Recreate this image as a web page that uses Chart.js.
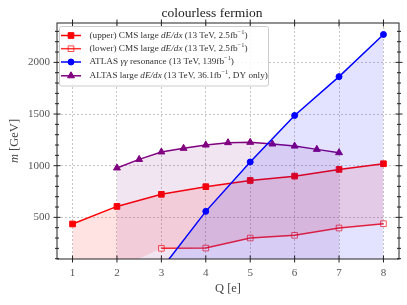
<!DOCTYPE html>
<html>
<head>
<meta charset="utf-8">
<script src="https://cdn.jsdelivr.net/npm/chart.js@4.4.0/dist/chart.umd.min.js"></script>
<style>
  html, body { margin: 0; padding: 0; background: #fff; }
</style>
</head>
<body>
<canvas id="chart" width="407" height="305"></canvas>
<script>
// values
const charges = [1, 2, 3, 4, 5, 6, 7, 8];
const cmsUpper = [436, 606, 723, 797, 857, 899, 964, 1019];
const cmsLowerCharges = [3, 4, 5, 6, 7, 8];
const cmsLower = [200, 203, 300, 326, 397, 439];
const cmsBandEdge = [0, 0, 200, 203, 300, 326, 397, 439];   // lower edge of the red band
const atlasCharges = [3, 4, 5, 6, 7, 8];
const atlasGammaGamma = [0, 558, 1036, 1486, 1862, 2270];
const dyCharges = [2, 2.5, 3, 3.5, 4, 4.5, 5, 5.5, 6, 6.5, 7];
const atlasDy = [978, 1061, 1133, 1168, 1200, 1223, 1226, 1210, 1190, 1158, 1126];

const xTicks = [1, 2, 3, 4, 5, 6, 7, 8];
const yTicks = [500, 1000, 1500, 2000];
const yMinorStep = 100;

const chartTitle = 'colourless fermion';
const xTitle = 'Q [e]';
const yTitle = [{t: 'm', it: true}, {t: ' [GeV]'}];
const legendLabels = [
    [{t: '(upper) CMS large '}, {t: 'dE/dx', it: true}, {t: ' (13 TeV, 2.5fb'}, {t: '\u22121', sup: true}, {t: ')'}],
    [{t: '(lower) CMS large '}, {t: 'dE/dx', it: true}, {t: ' (13 TeV, 2.5fb'}, {t: '\u22121', sup: true}, {t: ')'}],
    [{t: 'ATLAS '}, {t: '\u03b3\u03b3', it: true}, {t: ' resonance (13 TeV, 139fb'}, {t: '\u22121', sup: true}, {t: ')'}],
    [{t: 'ALTAS large '}, {t: 'dE/dx', it: true}, {t: ' (13 TeV, 36.1fb'}, {t: '\u22121', sup: true}, {t: ', DY only)'}]
];

const SERIF = "'Liberation Serif', 'DejaVu Serif', serif";
const RED = '#ff0000';
const BLUE = '#0000ff';
const PURPLE = '#800080';

function pts(xs, ys) {
    return xs.map((x, i) => ({x: x, y: ys[i]}));
}

function richText(ctx, x, y, parts, size, color, measureOnly) {
    let cx = x;
    ctx.fillStyle = color;
    ctx.textBaseline = 'middle';
    ctx.textAlign = 'left';
    parts.forEach(p => {
        const s = p.sup ? size * 0.7 : size;
        ctx.font = (p.it ? 'italic ' : '') + s + 'px ' + SERIF;
        if (!measureOnly) ctx.fillText(p.t, cx, y + (p.sup ? -size * 0.35 : 0));
        cx += ctx.measureText(p.t).width;
    });
    return cx - x;
}

function drawMarker(ctx, style, x, y, r, fill, stroke) {
    ctx.beginPath();
    if (style === 'rect') {
        const s = r * Math.SQRT1_2;
        ctx.rect(x - s, y - s, 2 * s, 2 * s);
    } else if (style === 'circle') {
        ctx.arc(x, y, r, 0, Math.PI * 2);
    } else {
        ctx.moveTo(x, y - r);
        ctx.lineTo(x + r * 0.866, y + r / 2);
        ctx.lineTo(x - r * 0.866, y + r / 2);
        ctx.closePath();
    }
    ctx.fillStyle = fill;
    ctx.fill();
    ctx.strokeStyle = stroke;
    ctx.lineWidth = 1;
    ctx.stroke();
}

const decor = {
    id: 'decor',
    afterDatasetsDraw(chart) {
        const ctx = chart.ctx;
        const a = chart.chartArea;
        const xs = chart.scales.x, ys = chart.scales.y;
        ctx.save();
        // frame
        ctx.strokeStyle = '#222';
        ctx.lineWidth = 1;
        ctx.strokeRect(a.left, a.top, a.right - a.left, a.bottom - a.top);
        // ticks on all four spines, crossing the spine
        ctx.beginPath();
        xTicks.forEach(v => {
            const px = xs.getPixelForValue(v);
            ctx.moveTo(px, a.bottom - 3.5); ctx.lineTo(px, a.bottom + 3.5);
            ctx.moveTo(px, a.top - 3.5); ctx.lineTo(px, a.top + 3.5);
        });
        for (let v = yMinorStep; v <= ys.max; v += yMinorStep) {
            if (v < ys.min) continue;
            const py = ys.getPixelForValue(v);
            const len = v % 500 === 0 ? 3.5 : 2;
            ctx.moveTo(a.left - len, py); ctx.lineTo(a.left + len, py);
            ctx.moveTo(a.right - len, py); ctx.lineTo(a.right + len, py);
        }
        ctx.stroke();

        // legend
        const lx = 59.5, ly = 26.5, lw = 209, lh = 59.5;
        ctx.beginPath();
        ctx.roundRect(lx, ly, lw, lh, 2);
        ctx.fillStyle = 'rgba(255,255,255,0.85)';
        ctx.fill();
        ctx.strokeStyle = '#cccccc';
        ctx.stroke();
        const rows = [35.5, 48.7, 62, 75.8];
        const marks = [
            {c: RED, s: 'rect', f: RED, r: 4},
            {c: 'rgba(255,0,0,0.8)', s: 'rect', f: 'rgba(0,0,0,0)', r: 4, e: 'rgba(255,0,0,0.7)'},
            {c: BLUE, s: 'circle', f: BLUE, r: 3},
            {c: PURPLE, s: 'triangle', f: PURPLE, r: 4}
        ];
        rows.forEach((ry, i) => {
            const m = marks[i];
            ctx.beginPath();
            ctx.moveTo(61, ry); ctx.lineTo(81, ry);
            ctx.strokeStyle = m.c;
            ctx.lineWidth = 1.5;
            ctx.stroke();
            drawMarker(ctx, m.s, 71, ry, m.r, m.f, m.e || m.c);
            richText(ctx, 89.5, ry, legendLabels[i], 9.2, '#333');
        });

        // title and axis titles
        ctx.fillStyle = '#222';
        ctx.font = '13.5px ' + SERIF;
        ctx.textAlign = 'center';
        ctx.textBaseline = 'middle';
        ctx.fillText(chartTitle, 212, 13);
        ctx.font = '12.5px ' + SERIF;
        ctx.fillStyle = '#444';
        ctx.fillText(xTitle, (a.left + a.right) / 2, 289);
        ctx.translate(15, 141);
        ctx.rotate(-Math.PI / 2);
        const w = richText(ctx, 0, 0, yTitle, 12.5, '#444', true);
        richText(ctx, -w / 2, 0, yTitle, 12.5, '#444');
        ctx.restore();
    }
};

const tickFont = {family: SERIF, size: 11};

new Chart(document.getElementById('chart').getContext('2d'), {
    type: 'line',
    data: {
        datasets: [
            {
                label: 'upper',
                data: pts(charges, cmsUpper),
                borderColor: RED, backgroundColor: 'rgba(255,0,0,0.11)',
                borderWidth: 1.5, pointStyle: 'rect', pointRadius: 4,
                pointBackgroundColor: RED, pointBorderColor: RED, pointBorderWidth: 1,
                fill: 4, order: 3
            },
            {
                label: 'lower',
                data: pts(cmsLowerCharges, cmsLower),
                borderColor: 'rgba(255,0,0,0.85)', borderWidth: 1.5,
                pointStyle: 'rect', pointRadius: 4,
                pointBackgroundColor: 'rgba(0,0,0,0)', pointBorderColor: 'rgba(255,0,0,0.65)', pointBorderWidth: 1,
                fill: false, order: 2
            },
            {
                label: 'atlas',
                data: pts(atlasCharges, atlasGammaGamma),
                borderColor: BLUE, backgroundColor: 'rgba(0,0,255,0.11)',
                borderWidth: 1.5, pointStyle: 'circle', pointRadius: 3,
                pointBackgroundColor: BLUE, pointBorderColor: BLUE, pointBorderWidth: 1,
                fill: 'start', order: 0
            },
            {
                label: 'dy',
                data: pts(dyCharges, atlasDy),
                borderColor: PURPLE, backgroundColor: 'rgba(128,0,128,0.1)',
                borderWidth: 1.5, pointStyle: 'triangle', pointRadius: 4,
                pointBackgroundColor: PURPLE, pointBorderColor: PURPLE, pointBorderWidth: 1,
                fill: 'start', order: 1
            },
            {
                label: 'band',
                data: pts(charges, cmsBandEdge),
                borderWidth: 0, borderColor: 'rgba(0,0,0,0)', pointRadius: 0,
                fill: false, order: 4
            }
        ]
    },
    options: {
        responsive: false,
        animation: false,
        events: [],
        layout: {padding: {top: 23, right: 8, left: 0, bottom: 0}},
        plugins: {legend: {display: false}, tooltip: {enabled: false}, title: {display: false}},
        scales: {
            x: {
                type: 'linear', min: 0.65, max: 8.35,
                afterBuildTicks: s => { s.ticks = xTicks.map(v => ({value: v})); },
                afterFit: s => { s.height = 46; },
                grid: {color: '#b8b8b8', lineWidth: 0.8, drawTicks: false},
                border: {display: false, dash: [2, 2]},
                ticks: {padding: 8, color: '#555', font: tickFont, maxRotation: 0, autoSkip: false,
                        callback: v => String(v)}
            },
            y: {
                type: 'linear', min: 97, max: 2381,
                afterBuildTicks: s => { s.ticks = yTicks.map(v => ({value: v})); },
                afterFit: s => { s.width = 57; },
                grid: {color: '#b8b8b8', lineWidth: 0.8, drawTicks: false},
                border: {display: false, dash: [2, 2]},
                ticks: {padding: 7, color: '#555', font: tickFont, autoSkip: false,
                        callback: v => String(v)}
            }
        }
    },
    plugins: [decor]
});
</script>
</body>
</html>
